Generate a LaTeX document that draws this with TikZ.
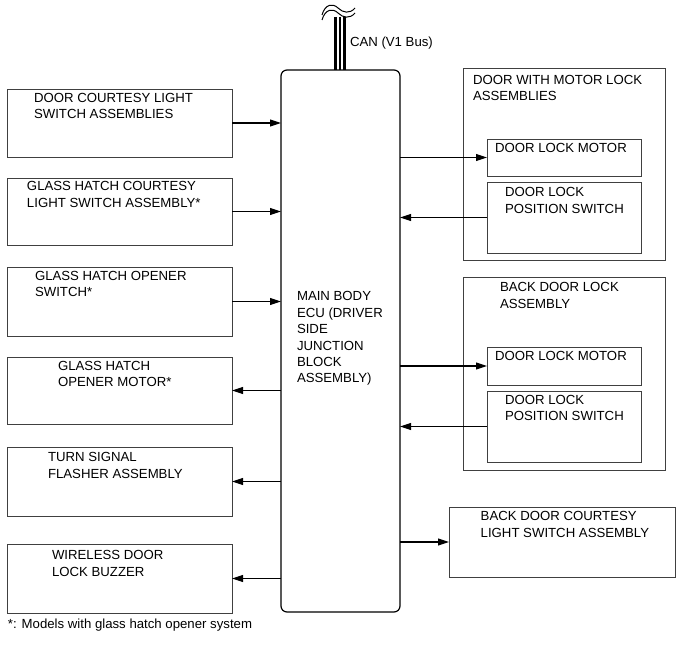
\documentclass[tikz,border=0pt]{standalone}
\usepackage{fontspec}
\setmainfont{Liberation Sans}
\usetikzlibrary{arrows.meta}
\tikzset{
  box/.style={draw=black!75, line width=0.9pt, rectangle, inner sep=0pt, outer sep=0pt, anchor=north west},
  ecubox/.style={draw=black, line width=1.2pt, rounded corners=6pt, rectangle, inner sep=0pt, outer sep=0pt, anchor=north west},
  txt/.style={anchor=north west, inner sep=0pt, outer sep=0pt, align=left, font={\fontsize{13.2}{16.4}\selectfont}},
  arr/.style={draw=black, line width=1.1pt, -{Triangle[length=11pt,width=7pt]}},
  wire/.style={draw=black},
}
\begin{document}
\begin{tikzpicture}[x=1pt,y=-1pt]
\useasboundingbox (0,0) rectangle (690,660);

% CAN bus
\draw[wire, line width=3pt] (335.3,17) -- (335.3,70);
\draw[wire, line width=1.2pt] (340,17) -- (340,70);
\draw[wire, line width=3pt] (344.2,17) -- (344.2,70);
\draw[black, line width=1pt] (322,15) .. controls (325,4) and (333,3) .. (338,8) .. controls (343,13) and (350,14) .. (355,8);
\draw[black, line width=1pt] (322,20) .. controls (325,9) and (333,8) .. (338,13) .. controls (343,18) and (350,19) .. (355,13);
\node[txt] (canlbl) at (350,36.5) {CAN (V1 Bus)};

% ECU
\node[ecubox, minimum width=119pt, minimum height=542pt] (ecu) at (281,70) {};
\node[txt] (ecut) at (297,291.7) {MAIN BODY\\ECU (DRIVER\\SIDE\\JUNCTION\\BLOCK\\ASSEMBLY)};

% left boxes
\node[box, minimum width=225pt, minimum height=68pt] (b1) at (7,89) {};
\node[txt] (t1) at (34,93.3) {DOOR COURTESY LIGHT\\SWITCH ASSEMBLIES};
\node[box, minimum width=225pt, minimum height=67pt] (b2) at (7,178) {};
\node[txt] (t2) at (27,181.7) {GLASS HATCH COURTESY\\LIGHT SWITCH ASSEMBLY*};
\node[box, minimum width=225pt, minimum height=69pt] (b3) at (7,267) {};
\node[txt] (t3) at (35,271) {GLASS HATCH OPENER\\SWITCH*};
\node[box, minimum width=225pt, minimum height=67pt] (b4) at (7,357) {};
\node[txt] (t4) at (58,361) {GLASS HATCH\\OPENER MOTOR*};
\node[box, minimum width=225pt, minimum height=69pt] (b5) at (7,447) {};
\node[txt] (t5) at (48,452.7) {TURN SIGNAL\\FLASHER ASSEMBLY};
\node[box, minimum width=225pt, minimum height=69pt] (b6) at (7,544) {};
\node[txt] (t6) at (52,550.7) {WIRELESS DOOR\\LOCK BUZZER};
\node[txt] (note) at (8,619) {*: Models with glass hatch opener system};

% right group 1
\node[box, minimum width=202pt, minimum height=192pt] (g1) at (463,68) {};
\node[txt] (g1t) at (473,75) {DOOR WITH MOTOR LOCK\\ASSEMBLIES};
\node[box, minimum width=154pt, minimum height=37pt] (m1) at (487,139) {};
\node[txt] (m1t) at (495,143.3) {DOOR LOCK MOTOR};
\node[box, minimum width=154pt, minimum height=71pt] (s1) at (487,182) {};
\node[txt] (s1t) at (505,187.7) {DOOR LOCK\\POSITION SWITCH};

% right group 2
\node[box, minimum width=202pt, minimum height=193pt] (g2) at (463,277) {};
\node[txt] (g2t) at (500,282.7) {BACK DOOR LOCK\\ASSEMBLY};
\node[box, minimum width=154pt, minimum height=38pt] (m2) at (487,347) {};
\node[txt] (m2t) at (495,351) {DOOR LOCK MOTOR};
\node[box, minimum width=154pt, minimum height=71pt] (s2) at (487,391) {};
\node[txt] (s2t) at (505,395) {DOOR LOCK\\POSITION SWITCH};

% back door courtesy
\node[box, minimum width=226pt, minimum height=70pt] (bd) at (449,507) {};
\node[txt] (bdt) at (480.7,511.7) {BACK DOOR COURTESY\\LIGHT SWITCH ASSEMBLY};

% connectors
\draw[arr] (b1.east) -- (b1.east -| ecu.west);
\draw[arr] (b2.east) -- (b2.east -| ecu.west);
\draw[arr] (b3.east) -- (b3.east -| ecu.west);
\draw[arr] (b4.east -| ecu.west) -- (b4.east);
\draw[arr] (b5.east -| ecu.west) -- (b5.east);
\draw[arr] (b6.east -| ecu.west) -- (b6.east);
\draw[arr] (m1.west -| ecu.east) -- (m1.west);
\draw[arr] (s1.west) -- (s1.west -| ecu.east);
\draw[arr] (m2.west -| ecu.east) -- (m2.west);
\draw[arr] (s2.west) -- (s2.west -| ecu.east);
\draw[arr] (bd.west -| ecu.east) -- (bd.west);
\end{tikzpicture}
\end{document}
